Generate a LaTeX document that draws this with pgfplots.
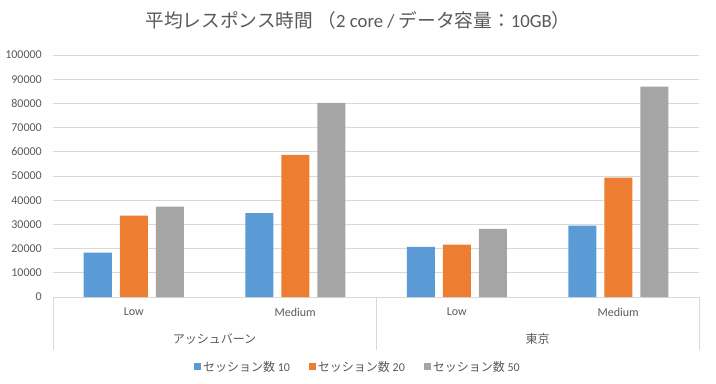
\documentclass[border=0pt]{standalone}
\usepackage{fontspec}
\setmainfont{Carlito}
\newfontfamily\cjk{Noto Sans CJK JP}
\usepackage{pgfplots}
\pgfplotsset{compat=1.18}
\definecolor{cblue}{HTML}{5B9BD5}
\definecolor{corange}{HTML}{ED7D31}
\definecolor{cgray}{HTML}{A5A5A5}
\definecolor{txt}{HTML}{595959}
\definecolor{gridc}{HTML}{D9D9D9}
\begin{document}
\begin{tikzpicture}
\useasboundingbox (0,0) rectangle (716bp,384bp);
\begin{axis}[
  at={(53bp,87bp)}, anchor=south west,
  scale only axis, width=646bp, height=242bp,
  ybar=8bp, bar width=28bp,
  xmin=-0.5, xmax=3.5, ymin=0, ymax=100000,
  xtick={0,1,2,3}, xticklabels={Low,Medium,Low,Medium},
  extra x ticks={-0.5,1.5,3.5}, extra x tick labels={\empty,\empty,\empty},
  extra x tick style={major tick length=53bp, tick align=outside, tick style={draw=gridc, line width=0.75bp}},
  xtick pos=bottom, ytick pos=left,
  ytick={0,10000,20000,30000,40000,50000,60000,70000,80000,90000,100000},
  yticklabels={0,10000,20000,30000,40000,50000,60000,70000,80000,90000,100000},
  ymajorgrids, grid style={draw=gridc, line width=0.75bp},
  axis line style={draw=none},
  major tick length=0pt,
  scaled y ticks=false,
  tick label style={font=\fontsize{12bp}{14bp}\selectfont, text=txt},
  yticklabel style={anchor=east, inner sep=0pt, xshift=-11bp},
  xticklabel style={anchor=center, inner sep=0pt, yshift=-15bp},
  clip=false,
  legend style={at={(0.472,-0.289)}, anchor=center, legend columns=3, draw=none,
    font=\fontsize{12bp}{14bp}\selectfont, text=txt,
    /tikz/every even column/.append style={column sep=17bp}},
  legend image code/.code={\fill[#1,draw=none] (0bp,-3.5bp) rectangle (7bp,3.5bp);},
]
\addplot[fill=cblue, draw=none] coordinates {(0,18300) (1,34700) (2,20700) (3,29500)};
\addplot[fill=corange, draw=none] coordinates {(0,33600) (1,58700) (2,21600) (3,49300)};
\addplot[fill=cgray, draw=none] coordinates {(0,37300) (1,80200) (2,28100) (3,86900)};
\legend{{\cjk セッション数} 10, {\cjk セッション数} 20, {\cjk セッション数} 50}
\node[text=txt, font=\fontsize{12bp}{14bp}\selectfont] at (axis cs:0.5,-17400) {\cjk アッシュバーン};
\node[text=txt, font=\fontsize{12bp}{14bp}\selectfont] at (axis cs:2.5,-17400) {\cjk 東京};
\end{axis}
\node[text=txt, font=\fontsize{18.7bp}{22bp}\selectfont] at (358bp,364bp) {{\cjk 平均レスポンス時間 （}2 core / {\cjk データ容量：}10GB{\cjk ）}};
\end{tikzpicture}
\end{document}
